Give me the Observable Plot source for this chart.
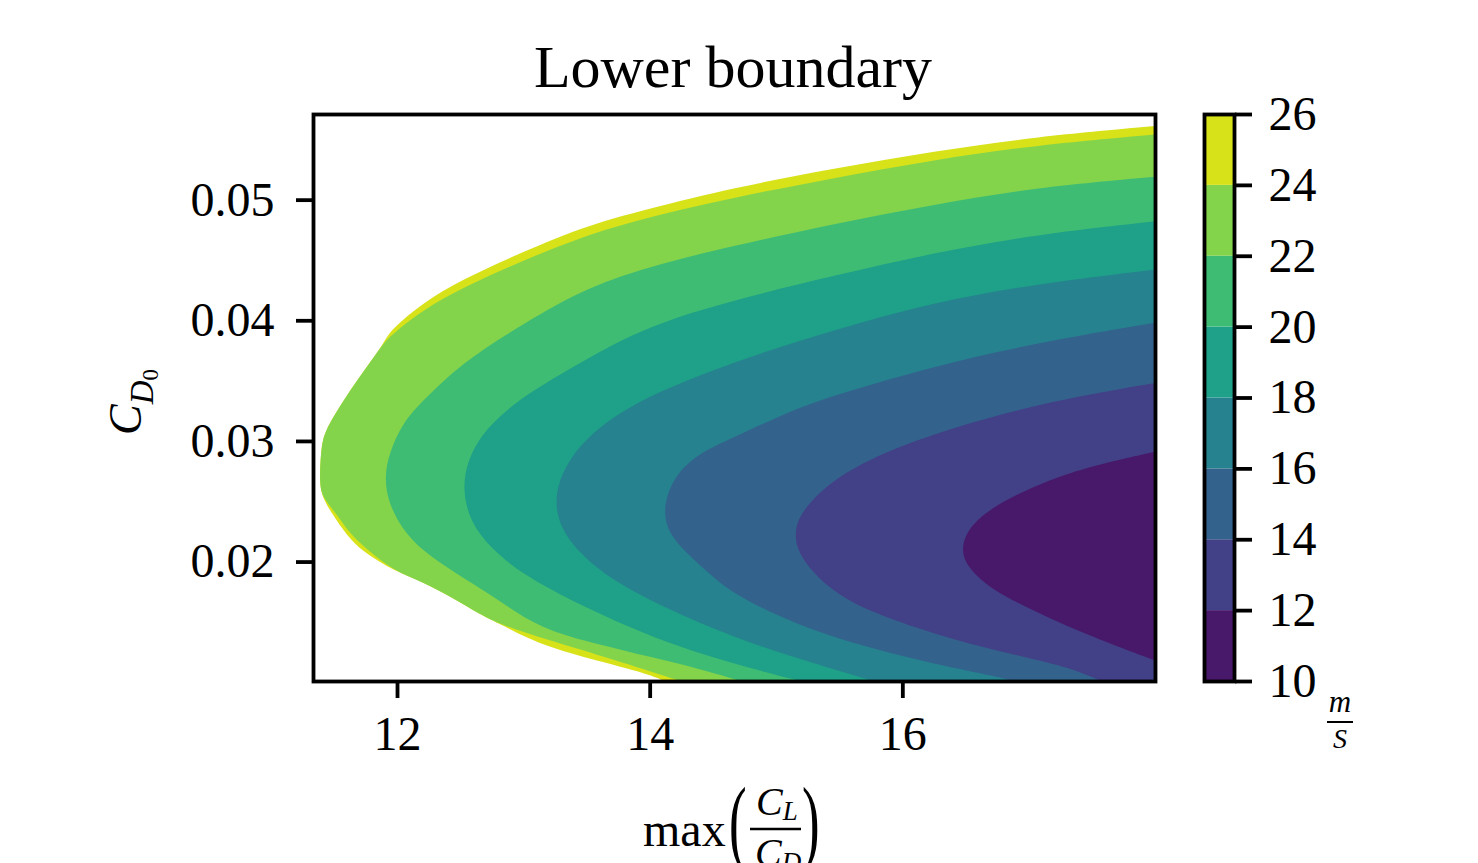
<!DOCTYPE html>
<html><head><meta charset="utf-8">
<script src="https://cdn.jsdelivr.net/npm/d3@7"></script>
<script src="https://cdn.jsdelivr.net/npm/@observablehq/plot@0.6"></script>
<style>
body{margin:0;background:#fff;}
#wrap{position:relative;width:1478px;height:863px;overflow:hidden;background:#fff;}
#wrap svg{position:absolute;top:0;}
</style></head><body>
<div id="wrap"></div>
<script>
// contour levels (m/s) and tick labels
const levels = [10, 12, 14, 16, 18, 20, 22, 24, 26];
const xTicks = [12, 14, 16];
const yTicks = [0.02, 0.03, 0.04, 0.05];
const xDomain = [11.335, 18.0];
const yDomain = [0.0101, 0.0571];

// contour lines: [max(CL/CD), CD0], top to bottom
const c26 = [[18.00,0.0561],[17.05,0.0552],[16.25,0.0540],[15.46,0.0526],[14.67,0.0510],[13.97,0.0492],[13.45,0.0477],[12.92,0.0453],[12.52,0.0434],[12.21,0.0415],[11.95,0.0392],[11.90,0.0382],[11.80,0.0367],[11.69,0.0351],[11.58,0.0334],[11.49,0.0319],[11.42,0.0305],[11.40,0.0293],[11.39,0.0276],[11.39,0.0264],[11.41,0.0253],[11.49,0.0239],[11.60,0.0222],[11.73,0.0208],[11.98,0.0192],[12.21,0.0183],[12.44,0.0170],[12.66,0.0156],[12.82,0.0148],[13.13,0.0131],[13.61,0.0117],[13.92,0.0109],[14.12,0.0101]];
const c24 = [[18.00,0.0554],[17.05,0.0545],[16.25,0.0533],[15.46,0.0518],[14.67,0.0502],[13.97,0.0485],[13.45,0.0469],[12.92,0.0446],[12.52,0.0427],[12.21,0.0409],[11.98,0.0390],[11.90,0.0382],[11.80,0.0367],[11.69,0.0351],[11.58,0.0334],[11.49,0.0319],[11.42,0.0305],[11.40,0.0293],[11.39,0.0276],[11.39,0.0264],[11.41,0.0253],[11.52,0.0240],[11.62,0.0224],[11.75,0.0211],[11.98,0.0192],[12.21,0.0183],[12.44,0.0170],[12.66,0.0156],[12.82,0.0148],[13.13,0.0137],[13.61,0.0122],[13.92,0.0112],[14.24,0.0101]];
const c22 = [[18.00,0.0519],[17.05,0.0510],[16.25,0.0496],[15.46,0.0480],[14.67,0.0462],[13.97,0.0444],[13.45,0.0425],[12.92,0.0392],[12.52,0.0365],[12.21,0.0334],[12.05,0.0316],[11.94,0.0291],[11.90,0.0270],[11.93,0.0250],[12.03,0.0228],[12.21,0.0208],[12.44,0.0192],[12.78,0.0170],[13.13,0.0144],[13.61,0.0131],[14.00,0.0121],[14.40,0.0111],[14.72,0.0101]];
const c20 = [[18.00,0.0482],[17.05,0.0471],[16.25,0.0456],[15.46,0.0437],[14.67,0.0417],[13.97,0.0395],[13.45,0.0365],[13.01,0.0338],[12.70,0.0311],[12.55,0.0283],[12.52,0.0258],[12.58,0.0233],[12.74,0.0211],[13.00,0.0189],[13.39,0.0167],[13.85,0.0145],[14.24,0.0129],[14.67,0.0115],[15.19,0.0101]];
const c18 = [[18.00,0.0442],[17.05,0.0430],[16.25,0.0415],[15.46,0.0392],[14.67,0.0366],[13.97,0.0337],[13.58,0.0311],[13.34,0.0283],[13.24,0.0253],[13.29,0.0228],[13.45,0.0206],[13.71,0.0184],[14.11,0.0162],[14.67,0.0137],[15.19,0.0119],[15.77,0.0101]];
const c16 = [[18.00,0.0398],[17.05,0.0381],[16.25,0.0362],[15.46,0.0338],[15.07,0.0323],[14.67,0.0303],[14.37,0.0289],[14.19,0.0270],[14.11,0.0247],[14.13,0.0228],[14.24,0.0212],[14.45,0.0192],[14.67,0.0172],[15.22,0.0145],[15.72,0.0129],[16.25,0.0115],[16.78,0.0104],[16.87,0.0101]];
const c14 = [[18.00,0.0348],[17.44,0.0338],[16.78,0.0323],[15.98,0.0297],[15.46,0.0270],[15.19,0.0241],[15.14,0.0222],[15.19,0.0203],[15.41,0.0178],[15.72,0.0159],[16.25,0.0140],[16.78,0.0125],[17.31,0.0113],[17.57,0.0101]];
const c12 = [[18.00,0.0291],[17.31,0.0275],[16.78,0.0250],[16.54,0.0231],[16.46,0.0212],[16.51,0.0195],[16.73,0.0175],[17.05,0.0159],[17.44,0.0140],[18.00,0.0118]];

const contours = [
  {level: 26, pts: c26}, {level: 24, pts: c24}, {level: 22, pts: c22}, {level: 20, pts: c20},
  {level: 18, pts: c18}, {level: 16, pts: c16}, {level: 14, pts: c14}, {level: 12, pts: c12}
];
const lo = levels[0], hi = levels[levels.length - 1];
const bandColor = upper => d3.interpolateViridis((upper - 1 - lo) / (hi - lo));

const FONT = "Liberation Serif, Times New Roman, serif";
const wrap = document.getElementById("wrap");

const main = Plot.plot({
  width: 1180, height: 800,
  marginLeft: 313, marginRight: 25, marginTop: 114, marginBottom: 119,
  x: {domain: xDomain},
  y: {domain: yDomain},
  style: {fontFamily: FONT, fontSize: "48px", color: "black", background: "transparent", overflow: "visible"},
  marks: [
    ...contours.map(c => Plot.areaX(c.pts, {
      x1: d => d[0], x2: () => xDomain[1], y: d => d[1],
      fill: bandColor(c.level), curve: "basis", clip: true
    })),
    Plot.frame({stroke: "black", strokeWidth: 3.8}),
    Plot.axisX({ticks: xTicks, tickFormat: d => String(d), tickSize: 17, tickPadding: 17, strokeWidth: 3.8, label: null, fontSize: 48}),
    Plot.axisY({ticks: yTicks, tickFormat: d => d.toFixed(2), tickSize: 17, tickPadding: 22, strokeWidth: 3.8, label: null, fontSize: 48})
  ]
});
main.style.left = "0px";
wrap.appendChild(main);

const bands = levels.slice(0, -1).map((l, i) => ({lo: l, hi: levels[i + 1]}));
const cbar = Plot.plot({
  width: 288, height: 800,
  marginLeft: 14, marginRight: 244, marginTop: 114, marginBottom: 119,
  x: {domain: [0, 1], axis: null},
  y: {domain: [lo, hi], axis: null},
  style: {fontFamily: FONT, fontSize: "48px", color: "black", background: "transparent", overflow: "visible"},
  marks: [
    Plot.rect(bands, {x1: 0, x2: 1, y1: d => d.lo, y2: d => d.hi, fill: d => bandColor(d.hi)}),
    Plot.frame({stroke: "black", strokeWidth: 3.8}),
    Plot.axisY({anchor: "right", ticks: levels, tickSize: 17, tickPadding: 17, strokeWidth: 3.8, label: null, fontSize: 48})
  ]
});
cbar.style.left = "1190px";
wrap.appendChild(cbar);

// text overlay: title, axis labels, colorbar unit
const ns = "http://www.w3.org/2000/svg";
const ov = document.createElementNS(ns, "svg");
ov.setAttribute("width", 1478); ov.setAttribute("height", 863);
ov.style.left = "0px";
ov.setAttribute("font-family", FONT);
ov.innerHTML = `
  <text x="733" y="87" text-anchor="middle" font-size="60">Lower boundary</text>
  <text transform="translate(141,435) rotate(-90)" font-size="46"><tspan font-style="italic">C</tspan><tspan font-style="italic" font-size="33" dy="12">D</tspan><tspan font-size="23" dy="5">0</tspan></text>
  <text x="643" y="846" font-size="48">max</text>
  <text transform="translate(729,853) scale(0.55,1)" font-size="96">(</text>
  <text x="756" y="815" font-size="40" font-style="italic">C<tspan font-size="27" dy="5">L</tspan></text>
  <line x1="750" x2="801" y1="829" y2="829" stroke="black" stroke-width="2.4"/>
  <text x="755" y="866" font-size="40" font-style="italic">C<tspan font-size="27" dy="5">D</tspan></text>
  <text transform="translate(802,853) scale(0.55,1)" font-size="96">)</text>
  <text x="1340" y="712" text-anchor="middle" font-size="31" font-style="italic">m</text>
  <line x1="1327" x2="1353" y1="722" y2="722" stroke="black" stroke-width="2"/>
  <text x="1340" y="748" text-anchor="middle" font-size="28" font-style="italic">S</text>
`;
wrap.appendChild(ov);
</script>
</body></html>
